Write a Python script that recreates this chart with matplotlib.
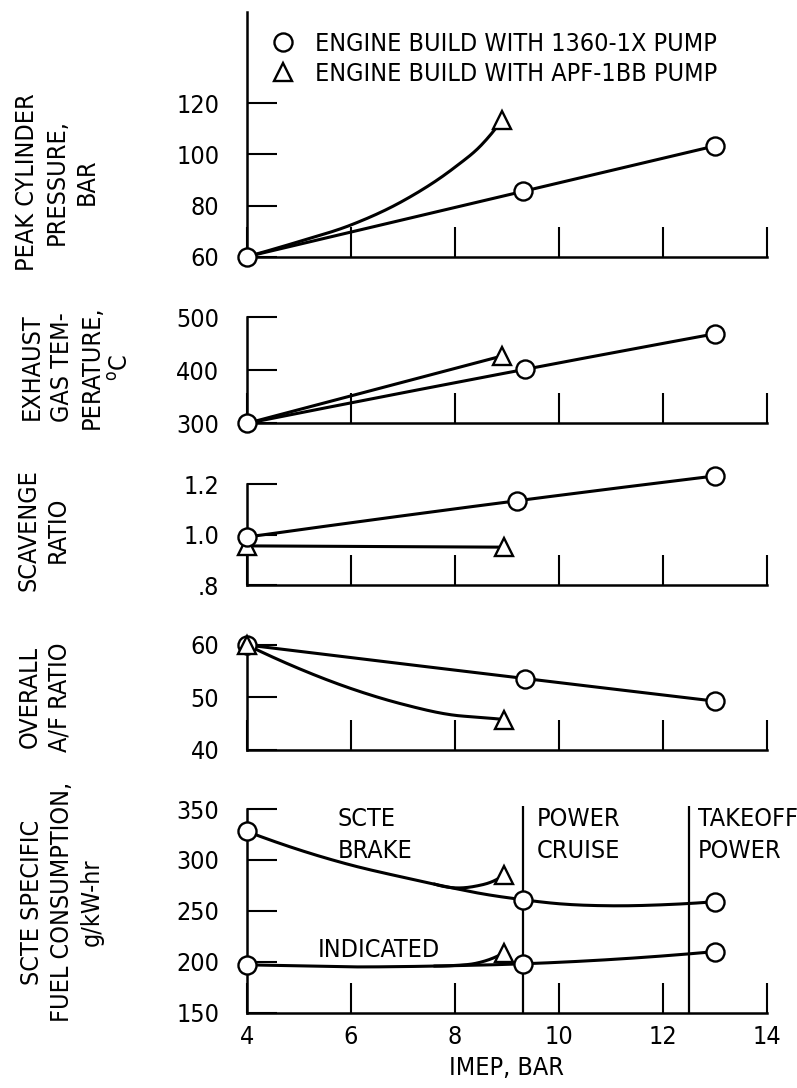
import matplotlib.pyplot as plt
from matplotlib.lines import Line2D
import numpy as np

plt.rcParams['font.family'] = ['Liberation Sans Narrow', 'DejaVu Sans']
plt.rcParams['font.stretch'] = 'condensed'

# IMEP, bar on all panels
# peak cylinder pressure, bar
pp_x_1360 = [4, 9.3, 13]
pp_1360 = [60, 85.5, 103.3]
pp_x_apf = [4, 5, 6, 7, 8, 8.5, 8.9]
pp_apf = [60, 65.9, 72.4, 81.8, 95.0, 103.5, 113.3]

# exhaust gas temperature, C
egt_x_1360 = [4, 9.35, 13]
egt_1360 = [300, 402, 469]
egt_x_apf = [4, 8.9]
egt_apf = [300, 427]

# scavenge ratio
sr_x_1360 = [4, 9.2, 13]
sr_1360 = [0.99, 1.134, 1.232]
sr_x_apf = [4, 8.95]
sr_apf = [0.955, 0.95]

# overall A/F ratio
af_x_1360 = [4, 9.35, 13]
af_1360 = [60, 53.6, 49.3]
af_x_apf = [4, 5, 6, 7, 8, 8.5, 8.95]
af_apf = [60, 55.5, 51.7, 48.7, 46.6, 46.2, 45.8]

# SCTE specific fuel consumption, g/kW-hr
bsfc_x = [4, 5, 6, 7, 8, 8.5, 9.3, 10, 11, 12, 13]
bsfc = [328, 310, 295, 283, 272, 267, 261, 257, 255, 256, 259]
bsfc_pts = [0, 6, 10]
bsfc_x_apf = [7.6, 8.0, 8.4, 8.75, 8.95]
bsfc_apf = [276.4, 272.6, 274.3, 279.5, 285.4]
isfc_x = [4, 5, 6, 7, 8, 9.3, 13]
isfc = [197, 196, 195, 195.3, 196.2, 198, 210]
isfc_pts = [0, 5, 6]
isfc_x_apf = [7.6, 8.0, 8.4, 8.75, 8.95]
isfc_apf = [195.8, 196.4, 198.5, 204, 209]

cruise_x = 9.3
takeoff_x = 12.5

xticks = [4, 6, 8, 10, 12, 14]
labels_1360 = 'ENGINE BUILD WITH 1360-1X PUMP'
labels_apf = 'ENGINE BUILD WITH APF-1BB PUMP'

FS = 18
LW = 2.2
MS = 13


def smooth(xs, ys, n=200):
    # cubic hermite in x through the read points (faired curve look)
    x = np.asarray(xs, float)
    y = np.asarray(ys, float)
    if len(x) < 3:
        return x, y
    h = np.diff(x)
    d = np.diff(y) / h
    m = np.empty_like(x)
    m[1:-1] = (h[1:] * d[:-1] + h[:-1] * d[1:]) / (h[:-1] + h[1:])
    m[0] = 2 * d[0] - m[1]
    m[-1] = 2 * d[-1] - m[-2]
    xx = np.linspace(x[0], x[-1], n)
    i = np.clip(np.searchsorted(x, xx, side='right') - 1, 0, len(x) - 2)
    t = (xx - x[i]) / h[i]
    h00 = 2 * t ** 3 - 3 * t ** 2 + 1
    h10 = t ** 3 - 2 * t ** 2 + t
    h01 = -2 * t ** 3 + 3 * t ** 2
    h11 = t ** 3 - t ** 2
    yy = h00 * y[i] + h10 * h[i] * m[i] + h01 * y[i + 1] + h11 * h[i] * m[i + 1]
    return xx, yy


def curve(ax, xs, ys, marker, every, z=3):
    sx, sy = smooth(xs, ys)
    ax.plot(sx, sy, color='black', lw=LW, zorder=2, clip_on=False, solid_capstyle='round')
    ax.plot(xs, ys, ls='none', marker=marker, markevery=every, ms=MS, mfc='white',
            mec='black', mew=1.7, zorder=z, clip_on=False)


def style(ax, ylim, yticks, yticklabels, xlabels=False):
    ax.set_xlim(4, 14)
    ax.set_ylim(*ylim)
    for s in ['top', 'right']:
        ax.spines[s].set_visible(False)
    for s in ['left', 'bottom']:
        ax.spines[s].set_linewidth(1.8)
    ax.set_xticks(xticks)
    ax.set_yticks(yticks)
    ax.set_yticklabels(yticklabels)
    ax.tick_params(axis='both', direction='in', length=21.5, width=1.5, labelsize=FS)
    ax.tick_params(axis='y', pad=20)
    ax.tick_params(axis='x', pad=9)
    if not xlabels:
        ax.set_xticklabels([])
    ax.patch.set_visible(False)


fig = plt.figure(figsize=(7.97, 10.88), dpi=100)
L, W = 0.3099, 0.6524
ax1 = fig.add_axes([L, 0.7641, W, 0.2249])
ax2 = fig.add_axes([L, 0.6109, W, 0.0974])
ax3 = fig.add_axes([L, 0.4623, W, 0.0928])
ax4 = fig.add_axes([L, 0.3107, W, 0.0965])
ax5 = fig.add_axes([L, 0.0692, W, 0.1872])

# peak pressure
curve(ax1, pp_x_apf, pp_apf, '^', [len(pp_x_apf) - 1])
curve(ax1, pp_x_1360, pp_1360, 'o', None, z=4)
style(ax1, (60, 155.7), [60, 80, 100, 120], ['60', '80', '100', '120'])
h1 = Line2D([], [], ls='none', marker='o', ms=MS, mfc='white', mec='black', mew=1.7)
h2 = Line2D([], [], ls='none', marker='^', ms=MS, mfc='white', mec='black', mew=1.7)
ax1.legend([h1, h2], [labels_1360, labels_apf], loc='upper left', bbox_to_anchor=(0.05, 0.92),
           frameon=False, fontsize=FS, handlelength=0.8, handletextpad=0.9,
           labelspacing=0.25, borderpad=0, borderaxespad=0)

# exhaust temperature
curve(ax2, egt_x_apf, egt_apf, '^', [len(egt_x_apf) - 1])
curve(ax2, egt_x_1360, egt_1360, 'o', None, z=4)
style(ax2, (300, 500), [300, 400, 500], ['300', '400', '500'])

# scavenge ratio
curve(ax3, sr_x_apf, sr_apf, '^', None)
curve(ax3, sr_x_1360, sr_1360, 'o', None, z=4)
style(ax3, (0.8, 1.2), [0.8, 1.0, 1.2], ['.8', '1.0', '1.2'])

# A/F ratio
curve(ax4, af_x_1360, af_1360, 'o', None)
curve(ax4, af_x_apf, af_apf, '^', [0, len(af_x_apf) - 1], z=4)
style(ax4, (40, 60), [40, 50, 60], ['40', '50', '60'])

# fuel consumption
curve(ax5, bsfc_x_apf, bsfc_apf, '^', [len(bsfc_x_apf) - 1])
curve(ax5, isfc_x_apf, isfc_apf, '^', [len(isfc_x_apf) - 1])
curve(ax5, bsfc_x, bsfc, 'o', bsfc_pts, z=4)
curve(ax5, isfc_x, isfc, 'o', isfc_pts, z=4)
style(ax5, (150, 350), [150, 200, 250, 300, 350], ['150', '200', '250', '300', '350'], xlabels=True)
ax5.vlines([cruise_x, takeoff_x], 150, 353, color='black', lw=1.6, zorder=1, clip_on=False)
ax5.text(5.75, 352, 'SCTE\nBRAKE', fontsize=FS, va='top', ha='left', linespacing=1.4)
ax5.text(9.57, 352, 'POWER\nCRUISE', fontsize=FS, va='top', ha='left', linespacing=1.4)
ax5.text(12.67, 352, 'TAKEOFF\nPOWER', fontsize=FS, va='top', ha='left', linespacing=1.4)
ax5.text(5.36, 212, 'INDICATED', fontsize=FS, va='center', ha='left')
ax5.set_xlabel('IMEP, BAR', fontsize=FS, labelpad=5)

ylab = dict(rotation=90, ha='left', va='center', multialignment='center', fontsize=FS,
            linespacing=1.3)
fig.text(0.0188, 0.8327, 'PEAK CYLINDER\nPRESSURE,\nBAR', **ylab)
fig.text(0.0251, 0.6627, 'EXHAUST\nGAS TEM-\nPERATURE,\n$^{\\mathregular{o}}$C', **ylab)
fig.text(0.0201, 0.5129, 'SCAVENGE\nRATIO', **ylab)
fig.text(0.0226, 0.3594, 'OVERALL\nA/F RATIO', **ylab)
fig.text(0.0251, 0.1710, 'SCTE SPECIFIC\nFUEL CONSUMPTION,\ng/kW-hr', **ylab)

fig.savefig('out.png', dpi=100)
